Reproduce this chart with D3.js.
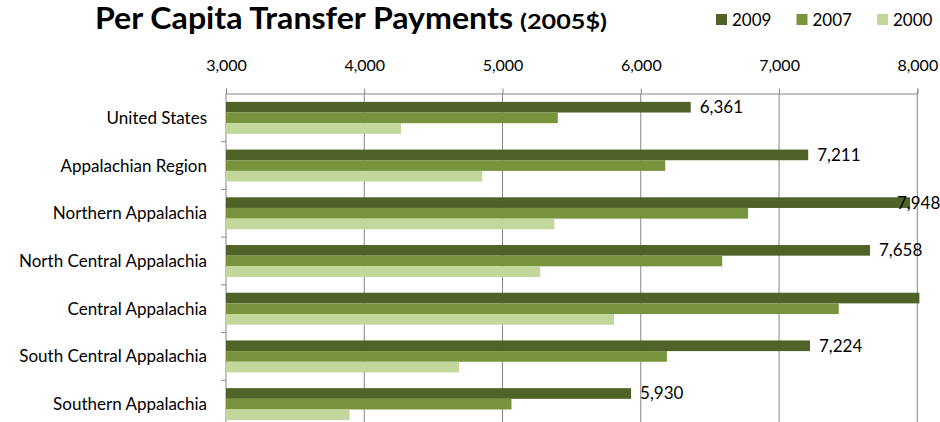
<!DOCTYPE html>
<html>
<head>
<meta charset="utf-8">
<script src="https://cdn.jsdelivr.net/npm/d3@7"></script>
<style>
  body { margin: 0; background: #fff; }
  text { font-family: Lato, "Open Sans", sans-serif; fill: #000; }
</style>
</head>
<body>
<script>
const width = 940;
const height = 422;

const regions = ["United States", "Appalachian Region", "Northern Appalachia",
  "North Central Appalachia", "Central Appalachia", "South Central Appalachia", "Southern Appalachia"];
const years = ["2009", "2007", "2000"];
const values2009 = [6361, 7211, 7948, 7658, 8015, 7224, 5930];
const values2007 = [5400, 6177, 6776, 6589, 7432, 6189, 5065];
const values2000 = [4266, 4853, 5375, 5273, 5806, 4686, 3894];
const xTicks = [3000, 4000, 5000, 6000, 7000, 8000];
const colors = ["#4f6228", "#77933c", "#c3d69b"];

const series = [values2009, values2007, values2000];
const rows = regions.map((r, i) => ({
  region: r,
  bars: years.map((y, j) => ({ year: y, value: series[j][i] }))
}));

const svg = d3.select("body")
  .append("svg")
  .attr("width", width)
  .attr("height", height);

const x = d3.scaleLinear().domain([3000, 8000]).range([226, 917.3]);
const y = d3.scaleBand().domain(regions).range([94, 428]).paddingInner(0.33).paddingOuter(0.165);
const ySub = d3.scaleBand().domain(years).range([0, y.bandwidth()]);

// gridlines
svg.append("g")
  .selectAll("line")
  .data(xTicks.slice(1))
  .enter()
  .append("line")
  .attr("x1", d => x(d)).attr("x2", d => x(d))
  .attr("y1", 93.5).attr("y2", height)
  .attr("stroke", "#868686");

// top axis
const xAxis = svg.append("g")
  .attr("transform", "translate(0,93.5)")
  .call(d3.axisTop(x).tickValues(xTicks).tickSize(5).tickPadding(18).tickFormat(d3.format(",")));
xAxis.select(".domain").attr("stroke", "#868686");
xAxis.selectAll(".tick line").attr("stroke", "#868686");
xAxis.selectAll("text").attr("font-size", 16).attr("font-family", "Lato").attr("fill", "#000");

// left axis line + ticks at band boundaries
svg.append("line")
  .attr("x1", 226).attr("x2", 226)
  .attr("y1", 93.5).attr("y2", height)
  .attr("stroke", "#868686");
svg.append("g")
  .selectAll("line")
  .data(regions.slice(1))
  .enter()
  .append("line")
  .attr("x1", 221).attr("x2", 226)
  .attr("y1", d => y(d) - y.step() * y.paddingInner() / 2)
  .attr("y2", d => y(d) - y.step() * y.paddingInner() / 2)
  .attr("stroke", "#868686");

svg.append("g")
  .selectAll("text")
  .data(regions)
  .enter()
  .append("text")
  .attr("x", 207)
  .attr("y", d => y(d) + y.bandwidth() / 2)
  .attr("dy", "0.35em")
  .attr("text-anchor", "end")
  .attr("font-size", 17)
  .text(d => d);

// bars
const group = svg.append("g")
  .selectAll("g")
  .data(rows)
  .enter()
  .append("g")
  .attr("transform", d => `translate(0,${y(d.region)})`);

group.selectAll("rect")
  .data(d => d.bars)
  .enter()
  .append("rect")
  .attr("x", x(3000))
  .attr("y", d => ySub(d.year))
  .attr("width", d => x(d.value) - x(3000))
  .attr("height", ySub.bandwidth())
  .attr("fill", (d, i) => colors[i]);

// labels for 2009 (hidden when past the axis max)
svg.append("g")
  .selectAll("text")
  .data(rows.filter(d => d.bars[0].value <= 8000))
  .enter()
  .append("text")
  .attr("x", d => Math.min(x(d.bars[0].value) + 9, width - 43))
  .attr("y", d => y(d.region) + ySub("2009") + ySub.bandwidth() / 2)
  .attr("dy", "0.35em")
  .attr("font-size", 17)
  .text(d => d3.format(",")(d.bars[0].value));

// title
svg.append("text")
  .attr("x", 95)
  .attr("y", 29)
  .attr("font-weight", "bold")
  .attr("font-size", 30)
  .attr("textLength", 418)
  .attr("lengthAdjust", "spacingAndGlyphs")
  .text("Per Capita Transfer Payments");
svg.append("text")
  .attr("x", 520)
  .attr("y", 29)
  .attr("font-weight", "bold")
  .attr("font-size", 20)
  .attr("textLength", 87)
  .attr("lengthAdjust", "spacingAndGlyphs")
  .text("(2005$)");

// legend
const legend = svg.append("g")
  .selectAll("g")
  .data(years)
  .enter()
  .append("g")
  .attr("transform", (d, i) => `translate(${716 + i * 80.5},0)`);
legend.append("rect")
  .attr("y", 14).attr("width", 11).attr("height", 11)
  .attr("fill", (d, i) => colors[i]);
legend.append("text")
  .attr("x", 16).attr("y", 26)
  .attr("font-size", 17)
  .text(d => d);
</script>
</body>
</html>
